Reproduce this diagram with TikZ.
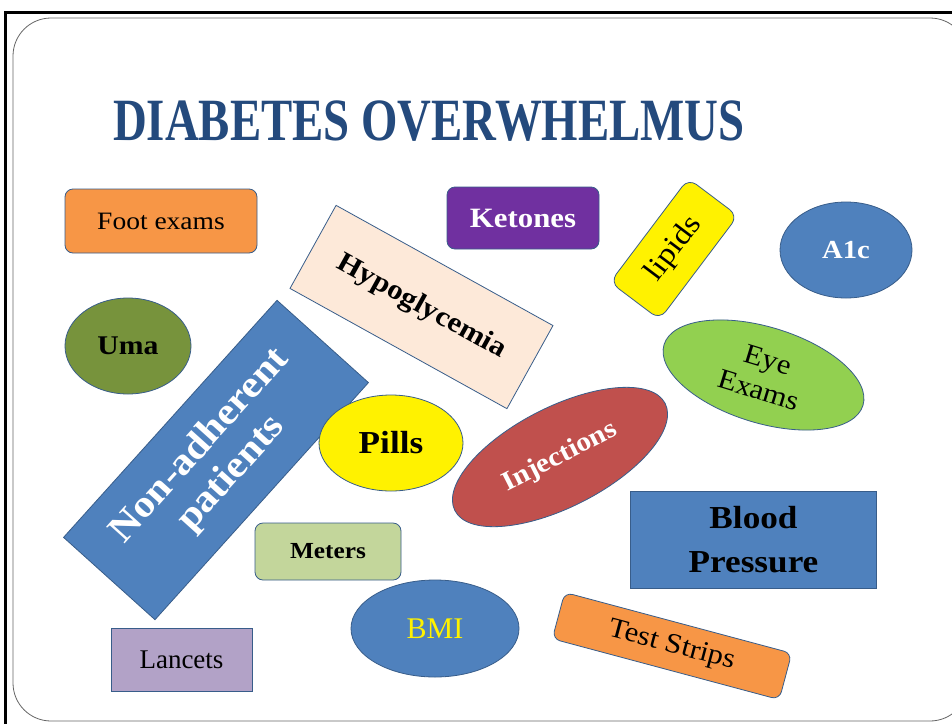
\documentclass[tikz,border=0pt]{standalone}
\usepackage{fontspec}
\usepackage{graphicx}
\setmainfont{Liberation Serif}
\newfontfamily\goudy[FakeStretch=1.1]{Liberation Serif}
\usetikzlibrary{shapes.geometric}
\definecolor{bordc}{RGB}{56,93,138}
\definecolor{sblue}{RGB}{79,129,189}
\definecolor{sorange}{RGB}{247,150,70}
\definecolor{spurple}{RGB}{112,48,160}
\definecolor{speach}{RGB}{253,233,217}
\definecolor{solive}{RGB}{119,147,60}
\definecolor{sred}{RGB}{192,80,77}
\definecolor{sgreen}{RGB}{146,208,80}
\definecolor{slgreen}{RGB}{195,214,155}
\definecolor{slav}{RGB}{178,162,199}
\definecolor{titleblue}{RGB}{36,74,125}
\newcommand{\gfont}[1]{\goudy\fontsize{#1}{#1}\selectfont}
\newcommand{\gbfont}[1]{\goudy\bfseries\fontsize{#1}{#1}\selectfont}
\begin{document}
\begin{tikzpicture}[x=1pt,y=-1pt,
  shp/.style={draw=bordc, line width=0.8pt, inner sep=0pt, align=center},
  rbox/.style={shp, rectangle, rounded corners=8pt},
  sbox/.style={shp, rectangle},
  ell/.style={shp, ellipse},
  titletext/.style={anchor=base west, inner sep=0pt, font=\bfseries\fontsize{60}{60}\selectfont}
  ]
\useasboundingbox (0,0) rectangle (952,723);
\fill[white] (0,0) rectangle (952,723);
\begin{scope}
\clip (0,0) rectangle (952,723);
\draw[line width=3pt] (5,724) -- (5,12) -- (953,12);
\draw[black!60, line width=0.8pt, rounded corners=38pt] (13,18) rectangle (968,721);
\end{scope}

% title
\node[titletext, text=titleblue] (title) at (113,140) {\scalebox{0.78}[1]{DIABETES OVERWHELMUS}};

% shapes
\node[rbox, fill=sorange, minimum width=192pt, minimum height=64pt, font=\gfont{25}] (foot) at (161,221) {Foot exams};
\node[rbox, fill=spurple, minimum width=152pt, minimum height=62pt, text=white, font=\gbfont{28}] (ketones) at (523,218) {Ketones};
\node[sbox, fill=speach, minimum width=248pt, minimum height=95pt, rotate=-29, font=\gbfont{28}] (hypo) at (421.5,307) {Hypoglycemia};
\node[rbox, rounded corners=10pt, fill=yellow, minimum width=130pt, minimum height=62pt, rotate=53, font=\gfont{30}] (lipids) at (674,249) {lipids};
\node[ell, fill=sblue, minimum width=132pt, minimum height=96pt, text=white, font=\gbfont{26}] (a1c) at (846,250) {A1c};
\node[ell, fill=solive, minimum width=126pt, minimum height=96pt, font=\gbfont{27}] (uma) at (128,346) {Uma};
\node[sbox, fill=sblue, minimum width=319pt, minimum height=123pt, rotate=48, text=white, font=\goudy\bfseries\fontsize{38}{42}\selectfont] (nonadh) at (216,460) {Non-adherent\\patients};
\node[ell, fill=yellow, minimum width=144pt, minimum height=96pt, font=\gbfont{32}] (pills) at (391,443) {Pills};
\node[ell, fill=sred, minimum width=236pt, minimum height=100pt, rotate=27, text=white, font=\gbfont{27}] (inj) at (560,457) {Injections};
\node[ell, fill=sgreen, minimum width=208pt, minimum height=96pt, rotate=-17, font=\goudy\fontsize{28}{32}\selectfont] (eye) at (763.5,375) {Eye\\Exams};
\node[sbox, fill=sblue, minimum width=246pt, minimum height=97pt, font=\goudy\bfseries\fontsize{32}{44}\selectfont] (bp) at (753.5,539.5) {Blood\\Pressure};
\node[rbox, fill=sorange, minimum width=235pt, minimum height=48pt, rotate=-15, font=\gfont{28}] (strips) at (672,646) {Test Strips};
\node[rbox, fill=slgreen, minimum width=146pt, minimum height=57pt, font=\gbfont{23}] (meters) at (328,551.5) {Meters};
\node[ell, fill=sblue, minimum width=168pt, minimum height=97pt, text=yellow, font=\fontsize{30}{30}\selectfont] (bmi) at (435,628.5) {BMI};
\node[sbox, fill=slav, minimum width=141pt, minimum height=63pt, font=\fontsize{27}{27}\selectfont] (lancets) at (181.5,659.5) {Lancets};
\end{tikzpicture}
\end{document}
